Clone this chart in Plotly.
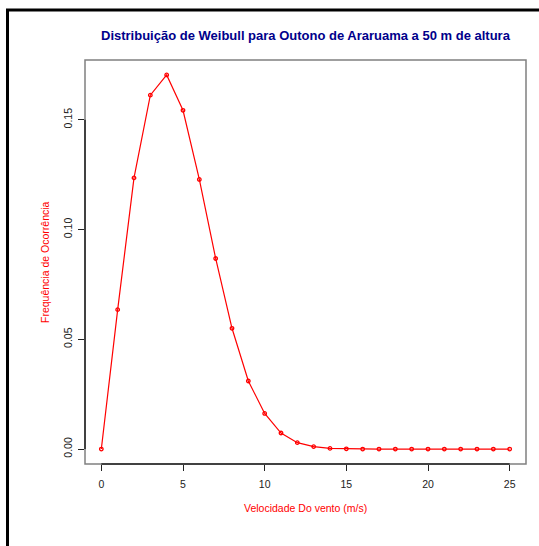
import plotly.graph_objects as go

# Wind speed classes (m/s) and Weibull frequency of occurrence
velocidade = list(range(0, 26))
frequencia = [0.0, 0.0635, 0.1235, 0.1612, 0.1704, 0.1543, 0.1228, 0.0868,
              0.0550, 0.0310, 0.0162, 0.0073, 0.0029, 0.0011, 0.0003, 0.0001,
              0.0, 0.0, 0.0, 0.0, 0.0, 0.0, 0.0, 0.0, 0.0, 0.0]

x_ticks = [0, 5, 10, 15, 20, 25]
y_ticks = [0.00, 0.05, 0.10, 0.15]
y_tick_labels = ["0.00", "0.05", "0.10", "0.15"]

titulo = "Distribuição de Weibull para Outono de Araruama a 50 m de altura"
x_titulo = "Velocidade Do vento (m/s)"
y_titulo = "Frequência de Ocorrência"

FONT = "Arial, Liberation Sans, Helvetica, sans-serif"
W, H = 539, 546
L, R, T, B = 85, 13, 60, 82
pw, ph = W - L - R, H - T - B

def px_x(p):
    return (p - L) / pw

def px_y(p):
    return (H - B - p) / ph

# R-style padded ranges (4% on each side)
xmin, xmax = min(velocidade), max(velocidade)
ymax = max(frequencia)
xr = [xmin - 0.04 * (xmax - xmin), xmax + 0.04 * (xmax - xmin)]
yr = [-0.04 * ymax, 1.04 * ymax]

fig = go.Figure()
fig.add_trace(go.Scatter(
    x=velocidade, y=frequencia, mode="lines+markers",
    line=dict(color="#ff0000", width=1.2),
    marker=dict(symbol="circle-open", size=3.5, color="#ff0000", line=dict(width=1.3)),
    showlegend=False, hoverinfo="x+y",
))

shapes = [
    # plot frame
    dict(type="rect", xref="paper", yref="paper", x0=0, x1=1, y0=0, y1=1,
         line=dict(color="#808080", width=1.5), layer="above"),
    # bottom axis line between first and last tick
    dict(type="line", xref="x", yref="paper", x0=x_ticks[0], x1=x_ticks[-1], y0=0, y1=0,
         line=dict(color="#222222", width=1.5), layer="above"),
    # left axis line between first and last tick
    dict(type="line", xref="paper", yref="y", x0=0, x1=0, y0=y_ticks[0], y1=y_ticks[-1],
         line=dict(color="#222222", width=1.5), layer="above"),
    # outer page frame
    dict(type="rect", xref="paper", yref="paper",
         x0=px_x(7.5), x1=px_x(W + 10), y0=px_y(H + 10), y1=px_y(10),
         line=dict(color="#000000", width=3), layer="above"),
]

annotations = [
    dict(text="<b>" + titulo + "</b>", xref="paper", yref="paper",
         x=0.5, y=px_y(36), xanchor="center", yanchor="middle", showarrow=False,
         font=dict(family=FONT, size=13, color="#00008B")),
    dict(text=x_titulo, xref="paper", yref="paper",
         x=0.5, y=px_y(508), xanchor="center", yanchor="middle", showarrow=False,
         font=dict(family=FONT, size=10.5, color="#ff0000")),
    dict(text=y_titulo, xref="paper", yref="paper",
         x=px_x(45), y=0.5, xanchor="center", yanchor="middle", showarrow=False,
         textangle=-90, font=dict(family=FONT, size=10.5, color="#ff0000")),
]

fig.update_layout(
    width=W, height=H,
    margin=dict(l=L, r=R, t=T, b=B, pad=0),
    paper_bgcolor="white", plot_bgcolor="white",
    font=dict(family=FONT, size=10, color="#222222"),
    shapes=shapes, annotations=annotations,
    xaxis=dict(range=xr, tickmode="array", tickvals=x_ticks,
               ticks="outside", ticklen=6, tickwidth=1, tickcolor="#222222",
               showgrid=False, zeroline=False, showline=False,
               tickfont=dict(family=FONT, size=10.5, color="#222222"),
               ticklabelstandoff=4),
    yaxis=dict(range=yr, tickmode="array", tickvals=y_ticks, ticktext=y_tick_labels,
               ticks="outside", ticklen=6, tickwidth=1, tickcolor="#222222",
               showgrid=False, zeroline=False, showline=False, tickangle=-90,
               tickfont=dict(family=FONT, size=10.5, color="#222222"),
               ticklabelstandoff=2),
)

fig.write_html("out.html")
